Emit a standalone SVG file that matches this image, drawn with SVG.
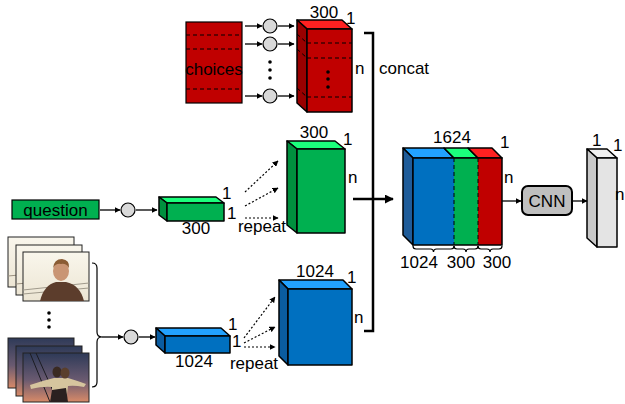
<svg xmlns="http://www.w3.org/2000/svg" width="625" height="404" viewBox="0 0 625 404">
<defs>
<style>
.t{font-family:"Liberation Sans",Arial,sans-serif;font-size:17px;fill:#000}
.e{stroke:#000;stroke-width:1.3;fill:none;marker-end:url(#ah)}
.d{stroke:#000;stroke-width:1.2;stroke-dasharray:2 2;fill:none;marker-end:url(#ah)}
.c{fill:#D9D9D9;stroke:#000;stroke-width:1.2}
.s{stroke:#000;stroke-width:1.5;stroke-linejoin:round}
.dash{stroke:#000;stroke-width:1;stroke-dasharray:4 3;fill:none}
.br{stroke:#000;stroke-width:1.2;fill:none}
</style>
<marker id="ah" viewBox="0 0 10 10" refX="9" refY="5" markerWidth="6" markerHeight="6" markerUnits="userSpaceOnUse" orient="auto"><path d="M0,0L10,5L0,10z" fill="#000"/></marker>
<marker id="ahb" viewBox="0 0 10 10" refX="9" refY="5" markerWidth="9" markerHeight="9" markerUnits="userSpaceOnUse" orient="auto"><path d="M0,0L10,5L0,10z" fill="#000"/></marker>
<linearGradient id="day" x1="0" y1="0" x2="0" y2="1"><stop offset="0" stop-color="#F9F6EC"/><stop offset="1" stop-color="#ECE5D3"/></linearGradient>
<linearGradient id="dusk" x1="0" y1="0" x2="0" y2="1"><stop offset="0" stop-color="#2E3A58"/><stop offset="0.55" stop-color="#6A5A70"/><stop offset="1" stop-color="#D88A68"/></linearGradient>
</defs>

<g id="choices">
<rect x="186" y="22" width="56" height="81" fill="#C00000" stroke="#000" stroke-width="1.2"/>
<line class="dash" x1="186" y1="35" x2="242" y2="35"/>
<line class="dash" x1="186" y1="49" x2="242" y2="49"/>
<line class="dash" x1="186" y1="89" x2="242" y2="89"/>
<text class="t" x="214" y="75" text-anchor="middle">choices</text>
</g>

<g id="choice-circles">
<circle class="c" cx="270" cy="26" r="7"/>
<circle class="c" cx="270" cy="44" r="7"/>
<circle class="c" cx="270" cy="96" r="7"/>
<circle cx="270" cy="62" r="1.8" fill="#000"/>
<circle cx="270" cy="70" r="1.8" fill="#000"/>
<circle cx="270" cy="78" r="1.8" fill="#000"/>
</g>

<g id="red-block">
<polygon class="s" points="297,20 342,20 352,29 307,29" fill="#FF2121"/>
<polygon class="s" points="297,20 307,29 307,112 297,103" fill="#990000"/>
<rect class="s" x="307" y="29" width="45" height="83" fill="#C00000"/>
<line class="dash" x1="307" y1="43" x2="352" y2="43"/>
<line class="dash" x1="307" y1="58" x2="352" y2="58"/>
<line class="dash" x1="307" y1="97" x2="352" y2="97"/>
<line class="dash" x1="297" y1="34" x2="307" y2="43"/>
<line class="dash" x1="297" y1="49" x2="307" y2="58"/>
<line class="dash" x1="297" y1="88" x2="307" y2="97"/>
<circle cx="328" cy="72" r="1.8" fill="#000"/>
<circle cx="328" cy="79" r="1.8" fill="#000"/>
<circle cx="328" cy="87" r="1.8" fill="#000"/>
<text class="t" x="324" y="18" text-anchor="middle">300</text>
<text class="t" x="346" y="24">1</text>
<text class="t" x="355" y="74">n</text>
</g>

<g id="question">
<rect x="12" y="200" width="87" height="19" fill="#00B050" stroke="#000" stroke-width="1.2"/>
<text class="t" x="55.5" y="215.5" text-anchor="middle" font-size="17.5">question</text>
</g>
<g id="question-circle"><circle class="c" cx="128" cy="210" r="7"/></g>

<g id="green-small">
<polygon class="s" points="159,197 216,197 224,203 167,203" fill="#1BFF7C"/>
<polygon class="s" points="159,197 167,203 167,221 159,215" fill="#00903E"/>
<rect class="s" x="167" y="203" width="57" height="18" fill="#00B050"/>
<text class="t" x="222" y="199">1</text>
<text class="t" x="227" y="219">1</text>
<text class="t" x="196" y="234" text-anchor="middle">300</text>
<text class="t" x="262" y="232" text-anchor="middle">repeat</text>
</g>

<g id="green-big">
<polygon class="s" points="287,141 335,141 345,149 297,149" fill="#1BFF7C"/>
<polygon class="s" points="287,141 297,149 297,233 287,225" fill="#00903E"/>
<rect class="s" x="297" y="149" width="48" height="84" fill="#00B050"/>
<text class="t" x="314" y="138" text-anchor="middle">300</text>
<text class="t" x="343" y="145">1</text>
<text class="t" x="348" y="183">n</text>
</g>

<g id="video-frames">
<rect x="8" y="237" width="66" height="50" fill="url(#day)" stroke="#222" stroke-width="1"/>
<path d="M8,276 L74,270" stroke="#9A9080" stroke-width="1"/>
<rect x="16" y="245" width="66" height="50" fill="url(#day)" stroke="#222" stroke-width="1"/>
<path d="M16,284 L82,278" stroke="#9A9080" stroke-width="1"/>
<rect x="23" y="252" width="66" height="49" fill="url(#day)" stroke="#222" stroke-width="1"/>
<path d="M23,290 L89,283 M23,294 L89,288" stroke="#A09A8C" stroke-width="1"/>
<path d="M40,301 Q44,285 56,282 L66,282 Q80,285 84,301 Z" fill="#5C3D2C"/>
<ellipse cx="61" cy="271" rx="8" ry="10" fill="#C99574"/>
<path d="M53,268 Q54,259 62,259 Q70,260 69,268 Q66,263 61,264 Q56,263 53,268 Z" fill="#8A5C34"/>
<circle cx="49" cy="313" r="1.8" fill="#000"/>
<circle cx="49" cy="320" r="1.8" fill="#000"/>
<circle cx="49" cy="327" r="1.8" fill="#000"/>
<rect x="8" y="338" width="66" height="50" fill="url(#dusk)" stroke="#222" stroke-width="1"/>
<rect x="16" y="346" width="66" height="50" fill="url(#dusk)" stroke="#222" stroke-width="1"/>
<rect x="23" y="353" width="66" height="49" fill="url(#dusk)" stroke="#222" stroke-width="1"/>
<path d="M30,353 L50,402 M36,353 L58,402" stroke="#1C1C22" stroke-width="1"/>
<path d="M30,385 Q45,380 54,378 L68,378 Q78,381 86,384 L84,387 Q74,385 68,386 L66,402 L52,402 L52,387 Q44,386 31,389 Z" fill="#D6C59E"/>
<ellipse cx="57" cy="372" rx="4.5" ry="5.5" fill="#3A2A22"/>
<ellipse cx="65" cy="373" rx="4.5" ry="5.5" fill="#5A3F2C"/>
<path d="M52,390 L66,388 L68,402 L50,402 Z" fill="#2A2020"/>
</g>

<g id="frame-brace">
<path class="br" d="M92,263 Q97,263 97,268 V332 Q97,337 102,337 Q97,337 97,342 V382 Q97,387 92,387"/>
</g>
<g id="video-circle"><circle class="c" cx="131" cy="337" r="7"/></g>

<g id="blue-small">
<polygon class="s" points="156,328 221,328 230,336 165,336" fill="#22A2FF"/>
<polygon class="s" points="156,328 165,336 165,353 156,345" fill="#0A5CA0"/>
<rect class="s" x="165" y="336" width="65" height="17" fill="#0070C0"/>
<text class="t" x="228" y="330">1</text>
<text class="t" x="232" y="347">1</text>
<text class="t" x="194" y="367" text-anchor="middle">1024</text>
<text class="t" x="254" y="369" text-anchor="middle">repeat</text>
</g>

<g id="blue-big">
<polygon class="s" points="279,280 343,280 352,289 288,289" fill="#22A2FF"/>
<polygon class="s" points="279,280 288,289 288,365 279,356" fill="#0A5CA0"/>
<rect class="s" x="288" y="289" width="64" height="76" fill="#0070C0"/>
<text class="t" x="315" y="277" text-anchor="middle">1024</text>
<text class="t" x="347" y="283">1</text>
<text class="t" x="354" y="323">n</text>
</g>

<g id="concat-bracket">
<path d="M364,33 H373 V331 H364" stroke="#000" stroke-width="2.5" fill="none"/>
<text class="t" x="379" y="74">concat</text>
</g>

<g id="concat-block">
<polygon class="s" points="403,148 444,148 454,158 413,158" fill="#22A2FF"/>
<polygon class="s" points="444,148 468,148 478,158 454,158" fill="#1BFF7C"/>
<polygon class="s" points="468,148 492,148 502,158 478,158" fill="#FF2121"/>
<polygon class="s" points="403,148 413,158 413,245 403,235" fill="#1F5C99"/>
<rect x="413" y="158" width="41" height="87" fill="#0070C0"/>
<rect x="454" y="158" width="24" height="87" fill="#00B050"/>
<rect x="478" y="158" width="24" height="87" fill="#C00000"/>
<rect x="413" y="158" width="89" height="87" fill="none" stroke="#000" stroke-width="1.5"/>
<line class="dash" x1="454" y1="158" x2="454" y2="245"/>
<line class="dash" x1="478" y1="158" x2="478" y2="245"/>
<path class="br" d="M413,246 Q413,249 416,249 H430.5 Q433.5,249 433.5,252 Q433.5,249 436.5,249 H451 Q454,249 454,246"/>
<path class="br" d="M454,246 Q454,249 457,249 H463 Q466,249 466,252 Q466,249 469,249 H475 Q478,249 478,246"/>
<path class="br" d="M478,246 Q478,249 481,249 H487 Q490,249 490,252 Q490,249 493,249 H499 Q502,249 502,246"/>
<text class="t" x="452" y="143" text-anchor="middle">1624</text>
<text class="t" x="500" y="148">1</text>
<text class="t" x="504" y="183">n</text>
<text class="t" x="419" y="268" text-anchor="middle">1024</text>
<text class="t" x="461" y="268" text-anchor="middle">300</text>
<text class="t" x="497" y="268" text-anchor="middle">300</text>
</g>

<g id="cnn">
<rect x="522" y="186" width="50" height="29" rx="6" fill="#BFBFBF" stroke="#000" stroke-width="2"/>
<text class="t" x="547" y="207" text-anchor="middle" font-size="16.5">CNN</text>
</g>

<g id="output-block">
<polygon class="s" points="587,149 607,149 617,158 597,158" fill="#EFEFEF"/>
<polygon class="s" points="587,149 597,158 597,247 587,238" fill="#C8C8C8"/>
<rect class="s" x="597" y="158" width="20" height="89" fill="#E4E4E4"/>
<text class="t" x="592" y="146">1</text>
<text class="t" x="613" y="151">1</text>
<text class="t" x="624.5" y="200" text-anchor="end" font-size="14">n</text>
</g>

<g id="connectors">
<line class="e" x1="245" y1="26" x2="262" y2="26"/>
<line class="e" x1="245" y1="44" x2="262" y2="44"/>
<line class="e" x1="245" y1="96" x2="262" y2="96"/>
<line class="e" x1="278" y1="26" x2="294" y2="26"/>
<line class="e" x1="278" y1="44" x2="294" y2="44"/>
<line class="e" x1="278" y1="96" x2="294" y2="96"/>
<line class="e" x1="100" y1="210" x2="120" y2="210"/>
<line class="e" x1="136" y1="210" x2="157" y2="210"/>
<line class="d" x1="245" y1="192" x2="278" y2="161"/>
<line class="d" x1="245" y1="206" x2="278" y2="188"/>
<line class="d" x1="245" y1="218" x2="278" y2="218"/>
<line class="e" x1="102" y1="337" x2="123" y2="337"/>
<line class="e" x1="139" y1="337" x2="155" y2="337"/>
<line class="d" x1="244" y1="338" x2="275" y2="297"/>
<line class="d" x1="244" y1="343" x2="275" y2="327"/>
<line class="d" x1="244" y1="347" x2="275" y2="347"/>
<line x1="353" y1="199" x2="393" y2="199" stroke="#000" stroke-width="2.5" marker-end="url(#ahb)"/>
<line class="e" x1="502" y1="201" x2="521" y2="201"/>
<line class="e" x1="573" y1="201" x2="587" y2="201"/>
</g>
</svg>
